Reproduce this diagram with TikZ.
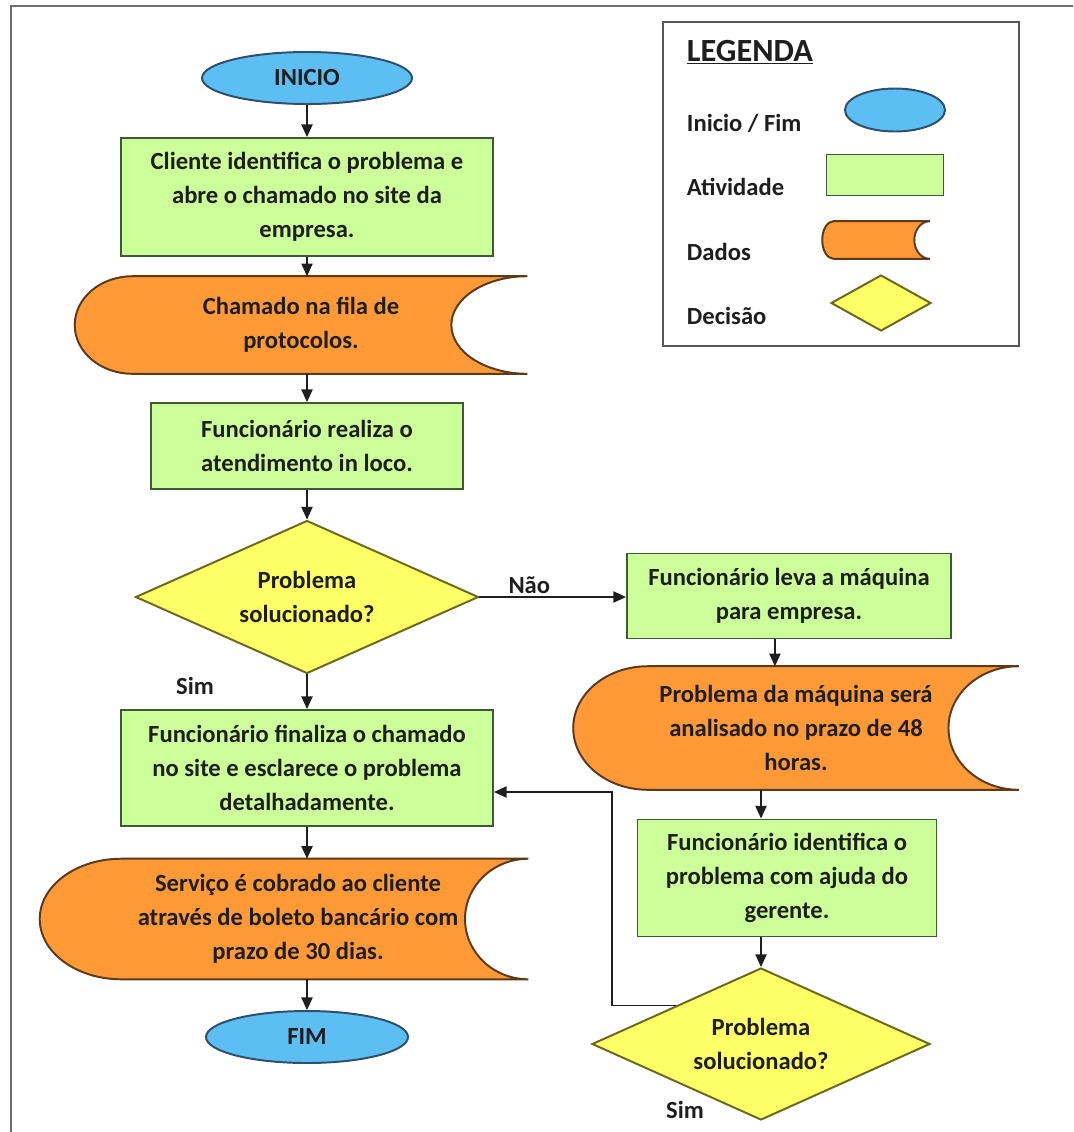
\documentclass[tikz,border=0pt]{standalone}
\usepackage{fontspec}
\setmainfont{Carlito}
\usetikzlibrary{calc, arrows.meta, shapes.geometric, backgrounds}
\definecolor{cazul}{HTML}{5CBEF2}
\definecolor{cazulb}{HTML}{2F4F6A}
\definecolor{cverde}{HTML}{CCFF99}
\definecolor{cverdeb}{HTML}{3E5A34}
\definecolor{claranja}{HTML}{FF9A36}
\definecolor{claranjab}{HTML}{5C3A1C}
\definecolor{camarelo}{HTML}{FFFF66}
\definecolor{camarelob}{HTML}{6A6A1E}
\definecolor{ctexto}{HTML}{1E1E1E}
\definecolor{cmoldura}{HTML}{6E6E6E}
\newcommand{\px}{0.025cm}
% forma "Dados" desenhada atras do no #1 (bojo #2, recorte #3, em pt)
\newcommand{\dadosforma}[3]{%
  \path[dadoslinha] let \p1=(#1.north west), \p2=(#1.south east),
      \p3=($(#1.north west)!0.5!(#1.south west)$), \n1={0.552*(\y1-\y3)} in
    (\x1+#2,\y1) -- (\x2,\y1)
    .. controls (\x2-0.552*#3,\y1) and (\x2-#3,\y3+\n1) .. (\x2-#3,\y3)
    .. controls (\x2-#3,\y3-\n1) and (\x2-0.552*#3,\y2) .. (\x2,\y2)
    -- (\x1+#2,\y2)
    .. controls (\x1+0.448*#2,\y2) and (\x1,\y3-\n1) .. (\x1,\y3)
    .. controls (\x1,\y3+\n1) and (\x1+0.448*#2,\y1) .. (\x1+#2,\y1) -- cycle;}

\begin{document}
\begin{tikzpicture}[x=\px, y=-\px,
    every node/.style={font=\fontsize{17.5}{24}\selectfont\bfseries, text=ctexto},
    term/.style={ellipse, draw=cazulb, fill=cazul, line width=1.4pt, inner sep=0pt},
    ativ/.style={rectangle, draw=cverdeb, fill=cverde, line width=1.4pt, align=center, inner sep=0pt},
    dados/.style={rectangle, align=center, inner sep=0pt},
    dadoslinha/.style={fill=claranja, draw=claranjab, line width=1.4pt},
    decisao/.style={diamond, aspect=2.2, draw=camarelob, fill=camarelo, line width=1.4pt, align=center, inner sep=0pt},
    seta/.style={-{Triangle[length=9pt,width=8pt]}, line width=1pt, draw=ctexto},
    rotulo/.style={inner sep=2pt}]
    \useasboundingbox (0,0) rectangle (1073,1132);
    \draw[cmoldura, line width=2pt] (1073,6) -| (11,1132);

    % legenda
    \node[draw=cmoldura!80!black, line width=1.5pt, minimum width=356*\px, minimum height=324*\px, inner sep=0pt] (legenda) at (841,184) {};
    \node[anchor=west, font=\fontsize{23}{28}\selectfont\bfseries] (legtit) at (682,52) {\underline{LEGENDA}};
    \node[anchor=west] (legl1) at (682,123) {Inicio / Fim};
    \node[anchor=west] (legl2) at (682,187) {Atividade};
    \node[anchor=west] (legl3) at (682,252) {Dados};
    \node[anchor=west] (legl4) at (682,316) {Decisão};
    \node[term, minimum width=100*\px, minimum height=43*\px] (legterm) at (895,110) {};
    \node[ativ, minimum width=117*\px, minimum height=41*\px] (legativ) at (885,175) {};
    \node[dados, minimum width=107*\px, minimum height=37*\px] (legdados) at (876,240) {};
    \node[decisao, minimum width=100*\px, minimum height=56*\px] (legdec) at (881,303) {};

    % fluxo principal
    \node[term, minimum width=210*\px, minimum height=52*\px] (ini) at (307,78) {INICIO};
    \node[ativ, minimum width=372*\px, minimum height=118*\px] (ativ1) at (307,197) {Cliente identifica o problema e\\abre o chamado no site da\\empresa.};
    \node[dados, minimum width=452*\px, minimum height=97*\px] (dados1) at (301,325) {Chamado na fila de\\protocolos.};
    \node[ativ, minimum width=312*\px, minimum height=86*\px] (ativ2) at (307,446) {Funcionário realiza o\\atendimento in loco.};
    \node[decisao, minimum width=343*\px, minimum height=153*\px] (dec1) at (307,597) {Problema\\solucionado?};
    \node[ativ, minimum width=372*\px, minimum height=116*\px] (ativ5) at (307,768) {Funcionário finaliza o chamado\\no site e esclarece o problema\\detalhadamente.};
    \node[dados, minimum width=488*\px, minimum height=120*\px] (dados3) at (284,919) {\hspace*{0.7cm}Serviço é cobrado ao cliente\\\hspace*{0.7cm}através de boleto bancário com\\\hspace*{0.7cm}prazo de 30 dias.};
    \node[term, minimum width=202*\px, minimum height=52*\px] (fim) at (307,1037) {FIM};

    % ramo da direita
    \node[ativ, minimum width=324*\px, minimum height=85*\px] (ativ3) at (789,596) {Funcionário leva a máquina\\para empresa.};
    \node[dados, minimum width=445*\px, minimum height=123*\px] (dados2) at (796,728) {Problema da máquina será\\analisado no prazo de 48\\horas.};
    \node[ativ, minimum width=299*\px, minimum height=117*\px] (ativ4) at (787,878) {Funcionário identifica o\\problema com ajuda do\\gerente.};
    \node[decisao, minimum width=338*\px, minimum height=152*\px] (dec2) at (761,1044) {Problema\\solucionado?};
    \node (sim1) at (195,686) {Sim};
    \node (sim2) at (685,1110) {Sim};

    \begin{pgfonlayer}{background}
        \dadosforma{dados1}{41}{54}
        \dadosforma{dados2}{53}{50}
        \dadosforma{dados3}{58}{45}
        \dadosforma{legdados}{8}{11}
    \end{pgfonlayer}

    \draw[seta] (ini) -- (ativ1);
    \draw[seta] (ativ1.south) -- (ativ1.south |- dados1.north);
    \draw[seta] (ativ2.north |- dados1.south) -- (ativ2.north);
    \draw[seta] (ativ2) -- (dec1);
    \draw[seta] (dec1) -- (ativ5);
    \draw[seta] (ativ5.south) -- (ativ5.south |- dados3.north);
    \draw[seta] (fim.north |- dados3.south) -- (fim.north);
    \draw[seta] (dec1.east) -- (ativ3.west |- dec1.east) node[rotulo, above, pos=0.34] (nao) {Não};
    \draw[seta] ([xshift=-10pt]ativ3.south) -- ([xshift=-10pt]ativ3.south |- dados2.north);
    \draw[seta] (dec2.north |- dados2.south) -- (dec2.north |- ativ4.north);
    \draw[seta] (dec2.north |- ativ4.south) -- (dec2.north);
    \coordinate (retorno) at (612,792);
    \draw[seta] (dec2.north west) -| (retorno) -- (retorno -| ativ5.east);
\end{tikzpicture}
\end{document}
